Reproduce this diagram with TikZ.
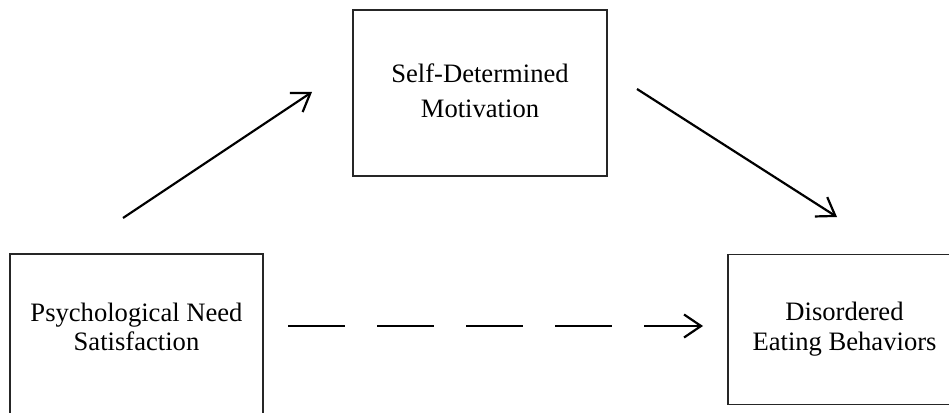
\documentclass[tikz,border=0pt]{standalone}
\usepackage{fontspec}
\setmainfont{Liberation Serif}
\usetikzlibrary{arrows.meta}
\begin{document}
\begin{tikzpicture}[x=1pt,y=-1pt,
  box/.style={draw=black!85, line width=1.6pt, minimum width=#1, inner sep=0pt},
  lbl/.style={anchor=base, font=\fontsize{26.6}{29}\selectfont, inner sep=0pt},
  conn/.style={line width=2.2pt, -{Straight Barb[length=17pt,width=23pt,line width=2.2pt]}},
  dconn/.style={line width=1.8pt, dash pattern=on 57pt off 32pt, -{Straight Barb[length=17pt,width=23pt,line width=2.2pt]}}]
\useasboundingbox (0,0) rectangle (949,412);
\clip (0,0) rectangle (949,412);
% boxes
\node[box=253pt, minimum height=180pt] (psn) at (136.5,344) {};
\node[box=254pt, minimum height=166pt] (sdm) at (480,93) {};
\node[box=232pt, minimum height=150pt] (deb) at (844,329.5) {};
% labels
\node[lbl] (psn1) at (136.5,321) {Psychological Need};
\node[lbl] (psn2) at (136.5,350) {Satisfaction};
\node[lbl] (sdm1) at (480,82) {Self-Determined};
\node[lbl] (sdm2) at (480,117) {Motivation};
\node[lbl] (deb1) at (844.5,320) {Disordered};
\node[lbl] (deb2) at (844.5,350) {Eating Behaviors};
% connector end points
\coordinate (a1s) at (123,218);
\coordinate (a1e) at (312,92);
\coordinate (a2s) at (637,89);
\coordinate (a2e) at (837,217);
\coordinate (a3s) at (288,326);
\coordinate (a3e) at (703,326);
\draw[conn] (a1s) -- (a1e);
\draw[conn] (a2s) -- (a2e);
\draw[dconn] (a3s) -- (a3e);
\end{tikzpicture}
\end{document}
